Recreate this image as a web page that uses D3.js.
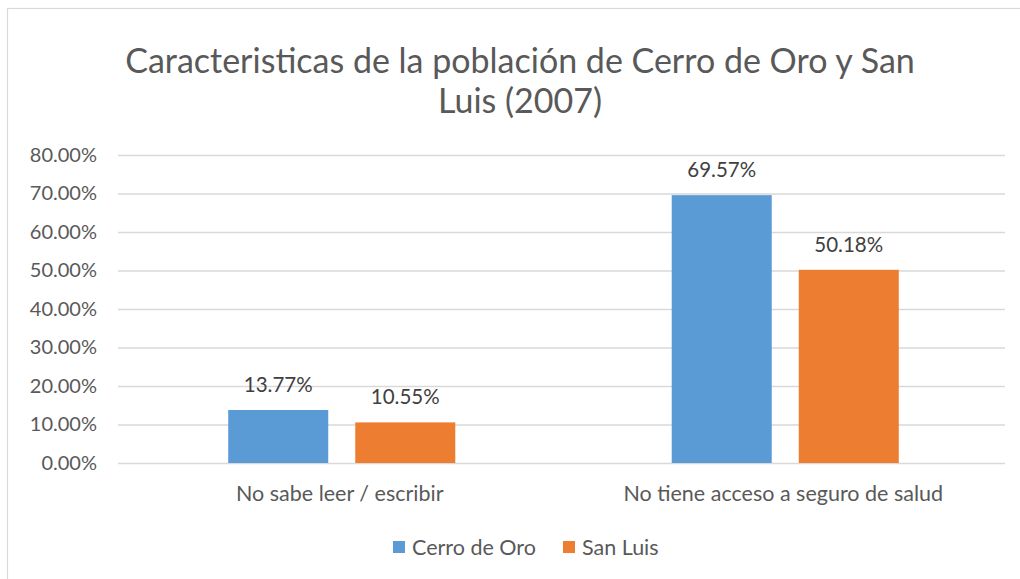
<!DOCTYPE html>
<html><head><meta charset="utf-8">
<script src="https://cdn.jsdelivr.net/npm/d3@7"></script>
<style>body{margin:0;background:#fff}svg{display:block}text{font-family:Lato,"Open Sans",sans-serif}</style>
</head><body>
<svg id="c" width="1020" height="579"></svg>
<script>
const categories = ["No sabe leer / escribir", "No tiene acceso a seguro de salud"];
const seriesNames = ["Cerro de Oro", "San Luis"];
const cerroDeOro = [0.1377, 0.6957];
const sanLuis = [0.1055, 0.5018];
const yTicks = [0, 0.1, 0.2, 0.3, 0.4, 0.5, 0.6, 0.7, 0.8];
const colors = ["#5b9bd5", "#ed7d31"];
const titleLines = ["Caracteristicas de la población de Cerro de Oro y San", "Luis (2007)"];

const svg = d3.select("#c");
svg.append("rect").attr("x",7.5).attr("y",8.5).attr("width",1030).attr("height",590)
  .attr("fill","#fff").attr("stroke","#d9d9d9").attr("stroke-width",1.2);

const L=118, R=1005, T=155, B=463;
const y = d3.scaleLinear().domain([0,0.8]).range([B,T]);
const x0 = d3.scaleBand().domain(categories).range([L,R]).padding(0);
const groupW = x0.bandwidth()*0.512;
const off = (x0.bandwidth()-groupW)/2 + 2;
const x1 = d3.scaleBand().domain(seriesNames).range([off, off+groupW]).paddingInner(0.2126).paddingOuter(0);

// title
svg.append("g").selectAll("text").data(titleLines).join("text")
  .attr("x",520).attr("y",(d,i)=>73+i*40).attr("text-anchor","middle")
  .attr("font-size",34).attr("fill","#595959").text(d=>d);

// grid
const yAxis = d3.axisLeft(y).tickValues(yTicks).tickFormat(d=>(d*100).toFixed(2)+"%").tickSize(-(R-L)).tickPadding(21);
const ga = svg.append("g").attr("transform",`translate(${L},0)`).call(yAxis);
ga.select(".domain").remove();
ga.selectAll(".tick line").attr("stroke","#d9d9d9").attr("stroke-width",1.5);
ga.selectAll(".tick text").attr("font-size",20).attr("fill","#595959").attr("font-family","Lato,'Open Sans',sans-serif");

const series = [cerroDeOro, sanLuis];
const data = [];
categories.forEach((c,ci)=>seriesNames.forEach((s,si)=>data.push({c,s,v:series[si][ci],si})));

svg.append("g").selectAll("rect").data(data).join("rect")
  .attr("x",d=>x0(d.c)+x1(d.s)).attr("width",x1.bandwidth())
  .attr("y",d=>y(d.v)).attr("height",d=>B-y(d.v)).attr("fill",d=>colors[d.si]);

svg.append("g").selectAll("text").data(data).join("text")
  .attr("x",d=>x0(d.c)+x1(d.s)+x1.bandwidth()/2).attr("y",d=>y(d.v)-18)
  .attr("text-anchor","middle").attr("font-size",20.5).attr("fill","#404040")
  .text(d=>(d.v*100).toFixed(2)+"%");

// category labels
svg.append("g").selectAll("text").data(categories).join("text")
  .attr("x",d=>x0(d)+x0.bandwidth()/2).attr("y",501).attr("text-anchor","middle")
  .attr("font-size",21.5).attr("fill","#595959").text(d=>d);

// legend
const legX = [393, 563];
const lg = svg.append("g").selectAll("g").data(seriesNames).join("g")
  .attr("transform",(d,i)=>`translate(${legX[i]},541)`);
lg.append("rect").attr("width",12).attr("height",12).attr("fill",(d,i)=>colors[i]);
lg.append("text").attr("x",19).attr("y",14).attr("font-size",21.5).attr("fill","#595959").text(d=>d);
</script>
</body></html>
